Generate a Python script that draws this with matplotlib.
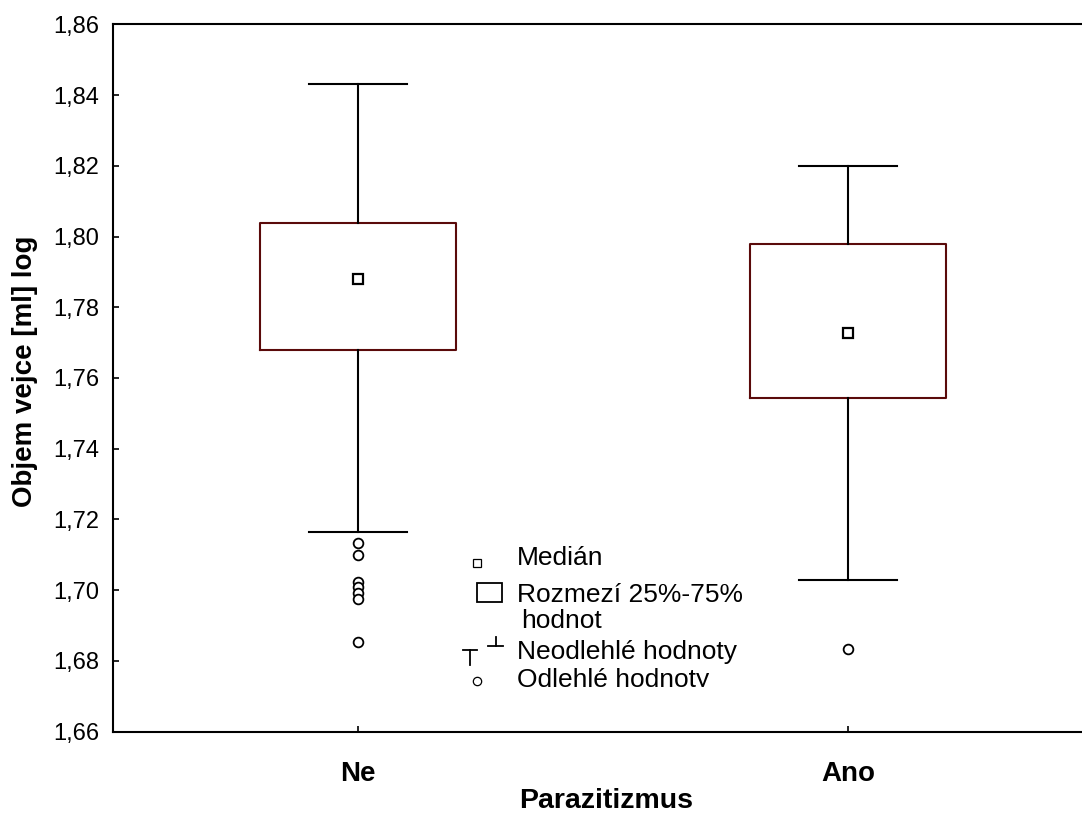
import matplotlib
matplotlib.use("Agg")
import matplotlib.pyplot as plt
import matplotlib.ticker as ticker
from matplotlib.patches import Rectangle
from matplotlib.transforms import Bbox, TransformedBbox

plt.rcParams['font.family'] = ['Liberation Sans', 'DejaVu Sans']

# ------------------------------------------------------------------
# Data
# ------------------------------------------------------------------
groups    = ["Ne", "Ano"]
medians   = [1.7879, 1.7726]
q1        = [1.7678, 1.7543]
q3        = [1.8037, 1.7979]
whisk_lo  = [1.7165, 1.7030]
whisk_hi  = [1.8430, 1.8199]
outliers  = [
    [1.7133, 1.7100, 1.7022, 1.7010, 1.6993, 1.6975, 1.6855],
    [1.6834],
]
y_ticks = [1.66, 1.68, 1.70, 1.72, 1.74, 1.76, 1.78, 1.80, 1.82, 1.84, 1.86]

BOX_COL = "#5a0a0a"

fig = plt.figure(figsize=(10.82, 8.18), dpi=100)
ax = fig.add_axes([0.1044, 0.1055, 0.9057, 0.8648])

stats = []
for i, g in enumerate(groups):
    stats.append(dict(label=g, med=medians[i], q1=q1[i], q3=q3[i],
                      whislo=whisk_lo[i], whishi=whisk_hi[i],
                      fliers=outliers[i]))

ax.bxp(stats, positions=range(len(groups)), widths=0.4, capwidths=0.2,
       boxprops=dict(color=BOX_COL, linewidth=1.5),
       whiskerprops=dict(color='black', linewidth=1.5),
       capprops=dict(color='black', linewidth=1.5),
       medianprops=dict(visible=False),
       flierprops=dict(marker='o', markersize=7, markerfacecolor='white',
                       markeredgecolor='black', markeredgewidth=1.3),
       zorder=2)

# medians as small squares
ax.plot(range(len(groups)), medians, linestyle='none', marker='s',
        markersize=7, markerfacecolor='white', markeredgecolor='black',
        markeredgewidth=1.6, zorder=3)

ax.set_xlim(-0.5, 1.5)
ax.set_ylim(1.66, 1.86)
ax.set_yticks(y_ticks)
ax.yaxis.set_major_formatter(
    ticker.FuncFormatter(lambda v, _: f"{v:.2f}".replace('.', ',')))
ax.set_xticks(range(len(groups)))
ax.set_xticklabels(groups, fontsize=20, fontweight='bold')

ax.tick_params(axis='y', direction='in', length=4, width=1.2,
               labelsize=17, pad=10)
ax.tick_params(axis='x', direction='in', length=4, width=1.2, pad=21)

for side in ['left', 'top', 'bottom', 'right']:
    ax.spines[side].set_linewidth(1.5)
    ax.spines[side].set_color('black')

ax.set_ylabel("Objem vejce [ml] log", fontsize=20, fontweight='bold')
ax.yaxis.set_label_coords(-0.0765, 0.51)
ax.set_xlabel("Parazitizmus", fontsize=20.5, fontweight='bold')
ax.xaxis.set_label_coords(0.5036, -0.079)

# ------------------------------------------------------------------
# Legend drawn by hand (STATISTICA-like), clipped at the bottom
# ------------------------------------------------------------------
tA = ax.transAxes
clip = TransformedBbox(Bbox([[0.30, 0.0625], [0.70, 0.30]]), tA)

ax.plot([0.3719], [0.2385], transform=tA, marker='s', markersize=6,
        markerfacecolor='white', markeredgecolor='black',
        markeredgewidth=0.9, clip_on=False)
ax.add_patch(Rectangle((0.3842 - 0.0128, 0.1968 - 0.0135), 0.0255, 0.0269,
                       transform=tA, facecolor='white', edgecolor='black',
                       linewidth=1.3, clip_on=False))
ax.plot([0.3568, 0.3711], [0.1155, 0.1155], transform=tA, color='black',
        linewidth=1.3, clip_on=False)
ax.plot([0.3640, 0.3640], [0.1155, 0.0943], transform=tA, color='black',
        linewidth=1.3, clip_on=False)
ax.plot([0.3823, 0.3983], [0.1211, 0.1211], transform=tA, color='black',
        linewidth=1.3, clip_on=False)
ax.plot([0.3905, 0.3905], [0.1211, 0.1340], transform=tA, color='black',
        linewidth=1.3, clip_on=False)
ax.plot([0.3719], [0.0717], transform=tA, marker='o', markersize=6,
        markerfacecolor='white', markeredgecolor='black',
        markeredgewidth=0.9, clip_on=False)

legend_items = [
    (0.4119, 0.2357, "Medián"),
    (0.4119, 0.1834, "Rozmezí 25%-75%"),
    (0.4170, 0.1466, "hodnot"),
    (0.4119, 0.1028, "Neodlehlé hodnoty"),
    (0.4119, 0.0632, "Odlehlé hodnoty"),
]
for x, y, s in legend_items:
    t = ax.text(x, y, s, transform=tA, fontsize=19, ha='left',
                va='baseline')
    t.set_clip_box(clip)
    t.set_clip_on(True)

fig.savefig("out.png", dpi=100)
